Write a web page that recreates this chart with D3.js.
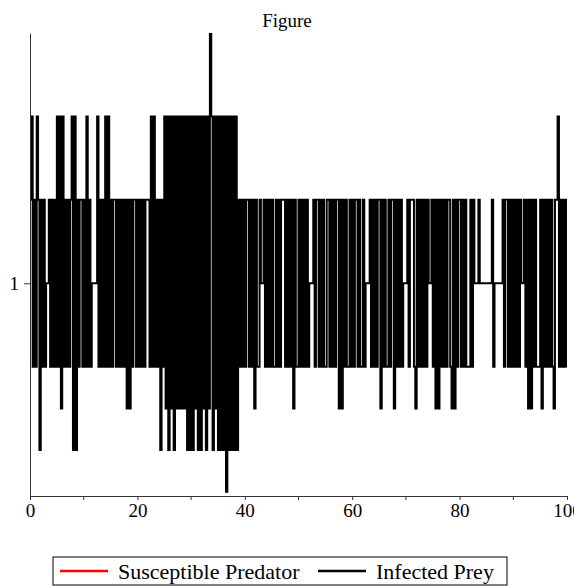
<!DOCTYPE html>
<html>
<head>
<meta charset="utf-8">
<script src="https://cdn.jsdelivr.net/npm/d3@7"></script>
<style>
body { margin: 0; background: #ffffff; }
</style>
</head>
<body>
<div id="canvas"></div>
<script>
"use strict"

/* Data: the infected prey series, one character per sample (time step 0.25).
   Each character is a hex level code:
   code c -> value 1 + (6 - c) * 0.005, so "6" is the value 1. */
let timeStep = 0.25;
let preyCodes = [
    "4284824a48" + "4866484848" + "2829284848" + "42a2a48448",   // t 0-10
    "4828486666" + "2848482828" + "4844848484" + "8494948448",   // t 10-20
    "4848484448" + "2828484a48" + "292a292a29" + "2929292a2a",   // t 20-30
    "2a292a2a29" + "2a2902a292" + "a2a2a2b2a2" + "a2a2a48484",   // t 30-40
    "8448484948" + "8466484848" + "4884848444" + "8484849488",   // t 40-50
    "4848484866" + "6484484848" + "8448484844" + "9494848848",   // t 50-60
    "4844848848" + "6664848484" + "4948488484" + "4948484866",   // t 60-70
    "6484448948" + "4848484664" + "8494948484" + "8448949484",   // t 70-80
    "4848488848" + "4666466666" + "6666486666" + "6648448484",   // t 80-90
    "8484846648" + "4949484888" + "4948484848" + "94428484848"   // t 90-100
];
let xTicks = [0, 20, 40, 60, 80, 100];
let xMinorTicks = [10, 30, 50, 70, 90];
let yTicks = [1];
let seriesNames = ["Susceptible Predator", "Infected Prey"];
let seriesColors = ["#ff0000", "#000000"];
let chartTitle = "Figure";

/* Drawing configuration */
let svgWidth = 574;
let svgHeight = 586;
let margin = { top: 33, right: 7, bottom: 90, left: 30 };
let chartWidth = svgWidth - margin.left - margin.right;
let chartHeight = svgHeight - margin.top - margin.bottom;
let fontFamily = "'Liberation Serif', 'Times New Roman', serif";

let svg = d3.select("#canvas")
    .append("svg")
    .attr("width", svgWidth)
    .attr("height", svgHeight);

svg.append("rect")
    .attr("width", svgWidth)
    .attr("height", svgHeight)
    .attr("fill", "#ffffff");

/* Build the data points from the codes */
let dataset = preyCodes.join("").split("").map(function (ch, i) {
    return { t: i * timeStep, value: 1 + (6 - parseInt(ch, 16)) * 0.005 };
});

/* Scales */
let xScale = d3.scaleLinear()
    .domain([0, 100])
    .range([margin.left, margin.left + chartWidth]);

let yScale = d3.scaleLinear()
    .domain([0.9745, 1.03])
    .range([margin.top + chartHeight, margin.top]);

/* Clip the line to the plot area */
svg.append("clipPath")
    .attr("id", "plotClip")
    .append("rect")
    .attr("x", margin.left)
    .attr("y", margin.top)
    .attr("width", chartWidth)
    .attr("height", chartHeight);

let line = d3.line()
    .x(function (d) { return xScale(d.t); })
    .y(function (d) { return yScale(d.value); })
    .curve(d3.curveStepAfter);

svg.append("path")
    .datum(dataset)
    .attr("clip-path", "url(#plotClip)")
    .attr("fill", "none")
    .attr("stroke", seriesColors[1])
    .attr("stroke-width", 2)
    .attr("d", line);

/* Axes */
let xAxis = d3.axisBottom(xScale)
    .tickValues(xTicks)
    .tickSize(4)
    .tickSizeOuter(4)
    .tickFormat(d3.format("d"));

let xAxisGroup = svg.append("g")
    .attr("transform", "translate(0," + (margin.top + chartHeight) + ")")
    .call(xAxis);

xAxisGroup.selectAll(".minor")
    .data(xMinorTicks)
    .join("line")
    .attr("class", "minor")
    .attr("x1", function (d) { return xScale(d); })
    .attr("x2", function (d) { return xScale(d); })
    .attr("y1", 0)
    .attr("y2", 4)
    .attr("stroke", "#333333");

let yAxis = d3.axisLeft(yScale)
    .tickValues(yTicks)
    .tickSize(6)
    .tickSizeOuter(0)
    .tickFormat(d3.format("d"));

let yAxisGroup = svg.append("g")
    .attr("transform", "translate(" + margin.left + ",0)")
    .call(yAxis);

[xAxisGroup, yAxisGroup].forEach(function (g) {
    g.select(".domain").attr("stroke", "#333333");
    g.selectAll(".tick line").attr("stroke", "#333333");
    g.selectAll(".tick text")
        .attr("fill", "#000000")
        .style("font-family", fontFamily)
        .style("font-size", "19px");
});
xAxisGroup.selectAll(".tick text").attr("dy", "0.71em").attr("y", 8);
yAxisGroup.selectAll(".tick text").attr("x", -11);

/* Title */
svg.append("text")
    .attr("x", 287)
    .attr("y", 27)
    .attr("text-anchor", "middle")
    .style("font-family", fontFamily)
    .style("font-size", "19px")
    .text(chartTitle);

/* Legend */
let legendX = 53;
let legendY = 557;
let legend = svg.append("g");

legend.append("rect")
    .attr("x", legendX)
    .attr("y", legendY)
    .attr("width", 454)
    .attr("height", 28)
    .attr("fill", "#ffffff")
    .attr("stroke", "#000000");

let legendItemX = [legendX + 7, legendX + 265];
for (let i = 0; i < seriesNames.length; i++) {
    legend.append("line")
        .attr("x1", legendItemX[i])
        .attr("x2", legendItemX[i] + 48)
        .attr("y1", legendY + 14)
        .attr("y2", legendY + 14)
        .attr("stroke", seriesColors[i])
        .attr("stroke-width", 2.5);

    legend.append("text")
        .attr("x", legendItemX[i] + 58)
        .attr("y", legendY + 22)
        .style("font-family", fontFamily)
        .style("font-size", "22px")
        .text(seriesNames[i]);
}
</script>
</body>
</html>
